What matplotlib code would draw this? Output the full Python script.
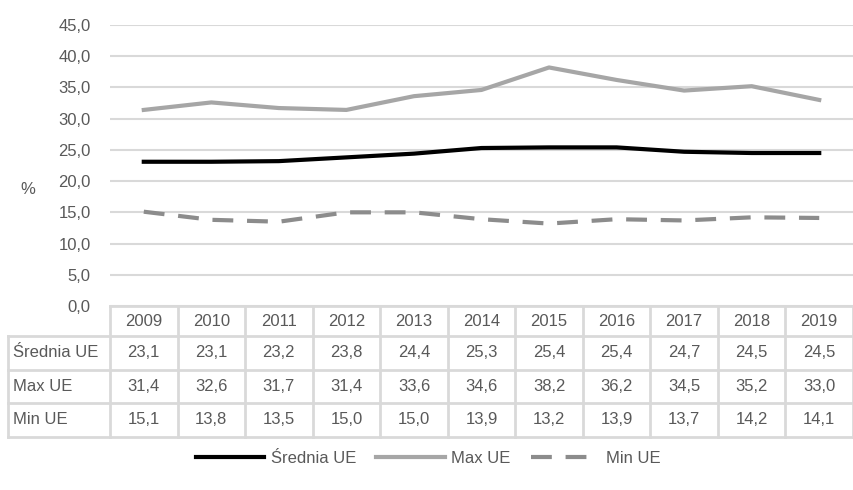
import numpy as np
import matplotlib.pyplot as plt
from matplotlib.lines import Line2D
import matplotlib.transforms as mtransforms

years = ['2009', '2010', '2011', '2012', '2013', '2014', '2015', '2016', '2017', '2018', '2019']
srednia = [23.1, 23.1, 23.2, 23.8, 24.4, 25.3, 25.4, 25.4, 24.7, 24.5, 24.5]
max_ue = [31.4, 32.6, 31.7, 31.4, 33.6, 34.6, 38.2, 36.2, 34.5, 35.2, 33.0]
min_ue = [15.1, 13.8, 13.5, 15.0, 15.0, 13.9, 13.2, 13.9, 13.7, 14.2, 14.1]
series_names = ['Średnia UE', 'Max UE', 'Min UE']

plt.rcParams['font.family'] = ['Liberation Sans', 'DejaVu Sans']
txt = '#595959'
grid = '#d9d9d9'
fs = 12

def fmt(v):
    return f'{v:.1f}'.replace('.', ',')

W, H = 854, 490
fig = plt.figure(figsize=(W / 100, H / 100), dpi=100)
ax = fig.add_axes([110 / W, 1 - 306 / H, 743 / W, 281 / H])

x = np.arange(len(years))
ax.plot(x, srednia, color='black', lw=3, label=series_names[0])
ax.plot(x, max_ue, color='#a6a6a6', lw=3, label=series_names[1])
ax.plot(x, min_ue, color='#8c8c8c', lw=3, ls=(0, (5, 3.3)), label=series_names[2])

ax.set_xlim(-0.5, len(years) - 0.5)
ax.set_ylim(0, 45)
ax.set_yticks(np.arange(0, 46, 5))
ax.set_yticklabels([fmt(v) for v in np.arange(0, 46, 5)], color=txt, fontsize=fs)
ax.tick_params(axis='y', length=0, pad=14)
ax.set_xticks([])
ax.yaxis.grid(True, color=grid, lw=1.5)
ax.set_axisbelow(True)
for s in ax.spines.values():
    s.set_visible(False)
fig.text(28 / W, 1 - 190 / H, '%', color=txt, fontsize=fs, ha='center', va='center')

# data table under the plot
trans = mtransforms.blended_transform_factory(ax.transData, ax.transAxes)
ah = 281.0
row_edges = [0, -30 / ah, -63.5 / ah, -97 / ah, -130.5 / ah]
left = -0.5 - 102 / 67.5
right = len(years) - 0.5
kw = dict(color=grid, lw=2, transform=trans, clip_on=False)

ax.add_line(Line2D([-0.5, right], [row_edges[0]] * 2, **kw))
for y in row_edges[1:]:
    ax.add_line(Line2D([left, right], [y] * 2, **kw))
for xe in np.arange(-0.5, right + 0.01, 1.0):
    ax.add_line(Line2D([xe, xe], [row_edges[0], row_edges[-1]], **kw))
ax.add_line(Line2D([left, left], [row_edges[1], row_edges[-1]], **kw))

for i, yr in enumerate(years):
    ax.text(i, (row_edges[0] + row_edges[1]) / 2, yr, transform=trans,
            ha='center', va='center', color=txt, fontsize=fs)
for r, vals in enumerate([srednia, max_ue, min_ue]):
    yc = (row_edges[r + 1] + row_edges[r + 2]) / 2
    ax.text(left + 0.07, yc, series_names[r], transform=trans,
            ha='left', va='center', color=txt, fontsize=fs)
    for i, v in enumerate(vals):
        ax.text(i, yc, fmt(v), transform=trans,
                ha='center', va='center', color=txt, fontsize=fs)

fig.legend(loc='center', bbox_to_anchor=(428 / W, 1 - 458 / H), ncol=3,
           frameon=False, fontsize=fs, handlelength=4.1, handletextpad=0.4,
           columnspacing=1.2, labelcolor=txt)

fig.savefig('out.png', dpi=100)
